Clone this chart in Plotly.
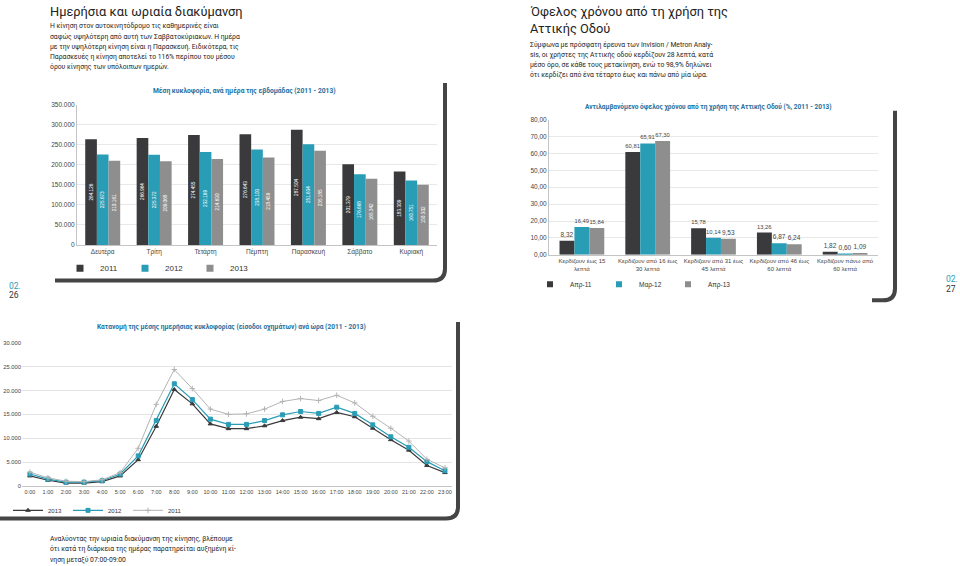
import plotly.graph_objects as go

W, H = 960, 566

# ---------------- DATA ----------------
days = ["Δευτέρα", "Τρίτη", "Τετάρτη", "Πέμπτη", "Παρασκευή", "Σάββατο", "Κυριακή"]
traffic_2011 = [264126, 266964, 274455, 276643, 287504, 201379, 183309]
traffic_2012 = [225673, 225372, 232169, 238103, 251634, 176668, 160751]
traffic_2013 = [210161, 209068, 214630, 218459, 235185, 165342, 150302]

benefit_cats = [
    "Κερδίζουν έως 15<br>λεπτά",
    "Κερδίζουν από 16 έως<br>30 λεπτά",
    "Κερδίζουν από 31 έως<br>45 λεπτά",
    "Κερδίζουν από 46 έως<br>60 λεπτά",
    "Κερδίζουν πάνω από<br>60 λεπτά",
]
benefit_apr11 = [8.32, 60.81, 15.78, 13.26, 1.82]
benefit_mar12 = [16.49, 65.91, 10.14, 6.87, 0.60]
benefit_apr13 = [15.84, 67.30, 9.53, 6.24, 1.09]

hours = ["0:00", "1:00", "2:00", "3:00", "4:00", "5:00", "6:00", "7:00", "8:00", "9:00",
         "10:00", "11:00", "12:00", "13:00", "14:00", "15:00", "16:00", "17:00", "18:00",
         "19:00", "20:00", "21:00", "22:00", "23:00"]
hourly_2013 = [2100, 1200, 600, 600, 900, 2100, 5500, 12500, 20200, 17200, 13000, 12000,
               12000, 12600, 13700, 14400, 14100, 15400, 14500, 12100, 9700, 7500, 4300, 2800]
hourly_2012 = [2500, 1450, 800, 800, 1100, 2500, 6300, 13700, 21400, 18100, 14000, 12900,
               12900, 13700, 14900, 15600, 15200, 16500, 15200, 12800, 10300, 8100, 5100, 3200]
hourly_2011 = [2900, 1700, 1000, 900, 1300, 2800, 7900, 17100, 24400, 20400, 16100, 15000,
               15100, 16100, 17700, 18300, 17900, 19000, 17400, 14600, 12100, 9400, 5600, 3800]

# ---------------- STYLE ----------------
C_DARK = "#3a3a3c"
C_TEAL = "#2a9db6"
C_GREY = "#8e8e8e"
C_LIGHT = "#b4b4b4"
C_TITLE = "#23709f"
C_TEXT = "#262626"
TICK_FONT = "Liberation Sans"
PROSE = "Roboto"


def px(x):
    return x / W


def py(y):
    return 1 - y / H


fig = go.Figure()

# ---- Chart 1: weekly traffic ----
for name, vals, col in [("2011", traffic_2011, C_DARK), ("2012", traffic_2012, C_TEAL),
                        ("2013", traffic_2013, C_GREY)]:
    fig.add_trace(go.Bar(
        x=days, y=vals, name=name, marker_color=col, marker_line_width=0,
        texttemplate="%{y:,}", textposition="inside", insidetextanchor="middle",
        textangle=-90, textfont=dict(color="white", size=7.5, family=TICK_FONT),
        xaxis="x", yaxis="y", showlegend=False,
    ))
    # compact legend key
    fig.add_trace(go.Scatter(
        x=[None], y=[None], name=name, mode="markers",
        marker=dict(symbol="square", size=7, color=col),
        xaxis="x", yaxis="y", legend="legend",
    ))

# ---- Chart 2: time benefit ----
for name, vals, col in [("Απρ-11", benefit_apr11, C_DARK), ("Μαρ-12", benefit_mar12, C_TEAL),
                        ("Απρ-13", benefit_apr13, C_GREY)]:
    fig.add_trace(go.Bar(
        x=benefit_cats, y=vals, name=name, marker_color=col, marker_line_width=0,
        texttemplate="%{y:.2f}", textposition="outside", cliponaxis=False,
        textfont=dict(color="#444", size=6.5, family=TICK_FONT),
        xaxis="x2", yaxis="y2", showlegend=False,
    ))
    fig.add_trace(go.Scatter(
        x=[None], y=[None], name=name, mode="markers",
        marker=dict(symbol="square", size=6, color=col),
        xaxis="x2", yaxis="y2", legend="legend2",
    ))

# ---- Chart 3: hourly traffic ----
for name, vals, col, sym, lw in [("2013", hourly_2013, C_DARK, "triangle-up", 1.2),
                                 ("2012", hourly_2012, C_TEAL, "square", 1.2),
                                 ("2011", hourly_2011, C_LIGHT, "cross-thin", 1.0)]:
    fig.add_trace(go.Scatter(
        x=hours, y=vals, name=name, mode="lines+markers",
        line=dict(color=col, width=lw),
        marker=dict(symbol=sym, size=4, color=col, line=dict(color=col, width=1)),
        xaxis="x3", yaxis="y3", legend="legend3",
    ))


def tf(size):
    return dict(family=TICK_FONT, size=size, color="#444")


fig.update_layout(
    width=W, height=H, margin=dict(l=0, r=0, t=0, b=0),
    paper_bgcolor="white", plot_bgcolor="white",
    separators=",.",
    barmode="group",
    bargap=0.32, bargroupgap=0.0,
    showlegend=True,
    font=dict(family=TICK_FONT, color=C_TEXT),
    xaxis=dict(domain=[px(77), px(437)], anchor="y", showline=True, linecolor="#c4c4c4",
               tickfont=tf(6.5), tickangle=0),
    yaxis=dict(domain=[py(244), py(102)], anchor="x", range=[0, 350000], dtick=50000,
               tickformat=",", showgrid=True, gridcolor="#e8e8e8", gridwidth=1,
               zeroline=False, showline=True, linecolor="#c4c4c4", tickfont=tf(6.5)),
    xaxis2=dict(domain=[px(549), px(878)], anchor="y2", showline=True, linecolor="#c4c4c4",
                tickfont=tf(6), tickangle=0),
    yaxis2=dict(domain=[py(254), py(117)], anchor="x2", range=[0, 80], dtick=10,
                tickformat=".2f", showgrid=True, gridcolor="#e8e8e8",
                zeroline=False, showline=True, linecolor="#c4c4c4", tickfont=tf(6.5)),
    xaxis3=dict(domain=[px(22), px(452)], anchor="y3", type="category",
                range=[-0.44, 23.39], showline=True, linecolor="#c4c4c4",
                tickfont=tf(5.5), tickangle=0),
    yaxis3=dict(domain=[py(488), py(343)], anchor="x3", range=[0, 30000], dtick=5000,
                tickformat=",", showgrid=True, gridcolor="#e4e4e4",
                zeroline=False, showline=False, tickfont=tf(5.8)),
    legend=dict(orientation="h", x=px(60), y=py(253), xanchor="left", yanchor="top",
                font=dict(size=8, family=TICK_FONT, color="#333"), itemwidth=30,
                entrywidth=20, bgcolor="rgba(0,0,0,0)"),
    legend2=dict(orientation="h", x=px(530), y=py(269), xanchor="left", yanchor="top",
                 font=dict(size=6.5, family=TICK_FONT, color="#333"), itemwidth=30,
                 entrywidth=24, bgcolor="rgba(0,0,0,0)"),
    legend3=dict(orientation="h", x=px(8), y=py(498), xanchor="left", yanchor="top",
                 font=dict(size=6, family=TICK_FONT, color="#333"), itemwidth=30,
                 entrywidth=15, bgcolor="rgba(0,0,0,0)"),
)


# ---------------- FRAMES ----------------
def P(x, y):
    return f"{px(x):.5f},{py(y):.5f}"


frames = [
    f"M {P(445, 80)} L {P(445, 268)} Q {P(445, 280)} {P(433, 280)} L {P(55, 280)}",
    f"M {P(895, 108)} L {P(895, 288)} Q {P(895, 300)} {P(883, 300)} L {P(872, 300)}",
    f"M {P(458, 322)} L {P(458, 509)} Q {P(458, 521)} {P(446, 521)} L {P(0, 521)}",
]
fig.update_layout(shapes=[dict(type="path", xref="paper", yref="paper", path=p,
                               line=dict(color="#454545", width=4)) for p in frames])

# ---------------- TEXT ----------------
ann = []


def text(x, y, s, size, color=C_TEXT, family=PROSE, xanchor="left", bold=False):
    if bold:
        s = f"<b>{s}</b>"
    ann.append(dict(x=px(x), y=py(y), xref="paper", yref="paper", text=s, showarrow=False,
                    xanchor=xanchor, yanchor="top", align="left",
                    font=dict(size=size, color=color, family=family)))


text(48, -2, "Ημερήσια και ωριαία διακύμανση", 12.8, "#222")
left_par = ["Η κίνηση στον αυτοκινητόδρομο τις καθημερινές είναι",
            "σαφώς υψηλότερη από αυτή των Σαββατοκύριακων. Η ημέρα",
            "με την υψηλότερη κίνηση είναι η Παρασκευή. Ειδικότερα, τις",
            "Παρασκευές η κίνηση αποτελεί το 116% περίπου του μέσου",
            "όρου κίνησης των υπόλοιπων ημερών."]
for i, line in enumerate(left_par):
    text(48, 15.5 + i * 10.4, line, 6.8)

text(528, -2, "Όφελος χρόνου από τη χρήση της", 12.8, "#222")
text(528, 15, "Αττικής Οδού", 12.8, "#222")
right_par = ["Σύμφωνα με πρόσφατη έρευνα των Invision / Metron Analy-",
             "sis, οι χρήστες της Αττικής οδού κερδίζουν 28 λεπτά, κατά",
             "μέσο όρο, σε κάθε τους μετακίνηση, ενώ το 98,9% δηλώνει",
             "ότι κερδίζει από ένα τέταρτο έως και πάνω από μία ώρα."]
for i, line in enumerate(right_par):
    text(528, 34 + i * 10.4, line, 6.8)

bottom_par = ["Αναλύοντας την ωριαία διακύμανση της κίνησης, βλέπουμε",
              "ότι κατά τη διάρκεια της ημέρας παρατηρείται αυξημένη κί-",
              "νηση μεταξύ 07:00-09:00"]
for i, line in enumerate(bottom_par):
    text(48, 535 + i * 10.2, line, 6.8)

text(245, 81, "Μέση κυκλοφορία, ανά ημέρα της εβδομάδας (2011 - 2013)", 6.7, C_TITLE,
     xanchor="center", bold=True)
text(708, 97, "Αντιλαμβανόμενο όφελος χρόνου από τη χρήση της Αττικής Οδού (%, 2011 - 2013)",
     6.5, C_TITLE, xanchor="center", bold=True)
text(231, 320, "Κατανομή της μέσης ημερήσιας κυκλοφορίας (είσοδοι οχημάτων) ανά ώρα (2011 - 2013)",
     6.6, C_TITLE, xanchor="center", bold=True)

text(7, 278, "02.", 8.5, C_TEAL)
text(7, 288, "26", 8.5, "#333")
text(944, 271, "02.", 8.5, C_TEAL)
text(944, 281, "27", 8.5, "#333")

fig.update_layout(annotations=ann)

fig.write_html("out.html", config={"displayModeBar": False},
               post_script="document.body.style.margin='0px';")
